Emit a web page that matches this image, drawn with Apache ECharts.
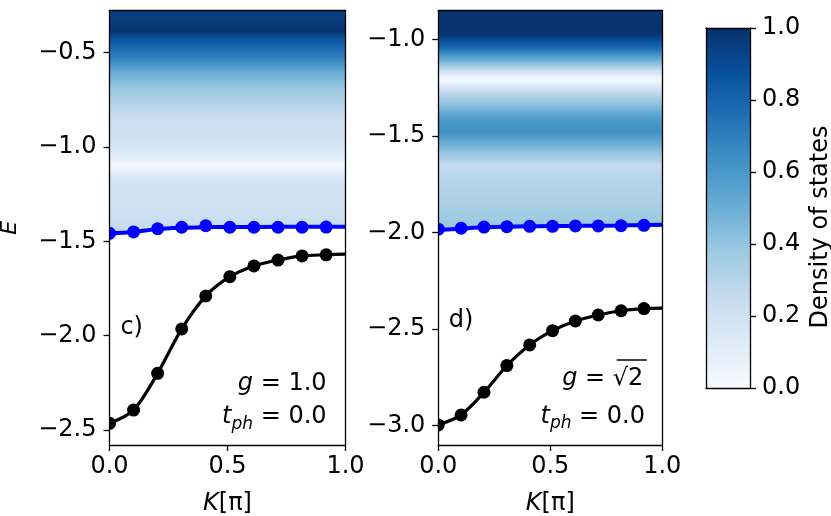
<!DOCTYPE html>
<html><head><meta charset="utf-8">
<script src="https://cdn.jsdelivr.net/npm/echarts@6/dist/echarts.min.js"></script>
<style>html,body{margin:0;padding:0;background:#fff}#c{width:831px;height:516px}</style>
</head><body><div id="c"></div>
<script>
// ---- tick labels ----
const kTicks = [0, 0.5, 1.0];
const eTicksC = [-2.5, -2.0, -1.5, -1.0, -0.5];
const eTicksD = [-3.0, -2.5, -2.0, -1.5, -1.0];
const cbTicks = [0, 0.2, 0.4, 0.6, 0.8, 1.0];

// ---- momentum samples ----
const kDots = [0, 0.102, 0.204, 0.306, 0.408, 0.51, 0.612, 0.714, 0.816, 0.918];
const kLine = [0, 0.1, 0.2, 0.3, 0.4, 0.5, 0.6, 0.7, 0.8, 0.9, 1.0];
const kBlackLine = [0, 0.102, 0.204, 0.306, 0.408, 0.51, 0.612, 0.714, 0.816, 0.918, 1.0];

// ---- panel c) g = 1.0 ----
const blueDotsC = [-1.457, -1.450, -1.433, -1.425, -1.417, -1.425, -1.425, -1.425, -1.425, -1.424];
const blueLineC = [-1.457, -1.450, -1.435, -1.428, -1.425, -1.424, -1.424, -1.423, -1.423, -1.422, -1.422];
const blackDotsC = [-2.464, -2.394, -2.199, -1.964, -1.789, -1.687, -1.630, -1.599, -1.577, -1.571];
const blackLineC = [-2.464, -2.394, -2.199, -1.964, -1.789, -1.687, -1.630, -1.599, -1.577, -1.571, -1.567];
const dosEC = [-0.27, -0.316, -0.353, -0.385, -0.422, -0.459, -0.491, -0.528, -0.565, -0.597, -0.634, -0.671, -0.703, -0.756, -0.809, -0.862, -0.936, -1.0, -1.053, -1.095, -1.138, -1.19, -1.281, -1.36, -1.413, -1.5];
const dosC  = [0.94, 0.95, 0.97, 1.0, 0.87, 0.8, 0.75, 0.68, 0.6, 0.52, 0.46, 0.41, 0.37, 0.32, 0.26, 0.22, 0.21, 0.17, 0.1, 0.03, 0.12, 0.19, 0.2, 0.21, 0.24, 0.24];

// ---- panel d) g = sqrt(2) ----
const blueDotsD = [-1.983, -1.978, -1.972, -1.970, -1.968, -1.968, -1.966, -1.966, -1.965, -1.963];
const blueLineD = [-1.987, -1.980, -1.973, -1.970, -1.968, -1.967, -1.966, -1.965, -1.964, -1.962, -1.960];
const blackDotsD = [-2.996, -2.944, -2.827, -2.689, -2.582, -2.508, -2.458, -2.427, -2.405, -2.394];
const blackLineD = [-2.996, -2.944, -2.827, -2.689, -2.582, -2.508, -2.458, -2.427, -2.405, -2.394, -2.391];
const dosED = [-0.85, -0.9, -0.957, -0.978, -0.993, -1.009, -1.035, -1.061, -1.086, -1.112, -1.138, -1.164, -1.19, -1.211, -1.237, -1.268, -1.304, -1.34, -1.371, -1.407, -1.449, -1.485, -1.521, -1.573, -1.625, -1.651, -1.692, -1.764, -1.832, -1.899, -1.946, -2.03];
const dosD  = [0.98, 0.99, 1.0, 0.97, 0.92, 0.87, 0.8, 0.7, 0.58, 0.47, 0.36, 0.22, 0.06, 0.02, 0.12, 0.25, 0.35, 0.42, 0.5, 0.58, 0.62, 0.62, 0.54, 0.42, 0.32, 0.25, 0.28, 0.31, 0.33, 0.36, 0.38, 0.38];

// ---- colormap (matplotlib Blues) ----
const BLUES = ['#f7fbff','#deebf7','#c6dbef','#9ecae1','#6baed6','#4292c6','#2171b5','#08519c','#08306b'];
function hex(c){return [parseInt(c.slice(1,3),16),parseInt(c.slice(3,5),16),parseInt(c.slice(5,7),16)];}
function blues(v){
  v = Math.max(0, Math.min(1, v));
  const t = v * 8, i = Math.min(7, Math.floor(t)), f = t - i;
  const a = hex(BLUES[i]), b = hex(BLUES[i+1]);
  return 'rgb(' + a.map((x,j)=>Math.round(x + (b[j]-x)*f)).join(',') + ')';
}

const FONT = 'DejaVu Sans';
const zip = (xs, ys) => xs.map((x,i)=>[x, ys[i]]);
const fmt = v => (v < 0 ? '\u2212' : '') + Math.abs(v).toFixed(1);

function dosRows(E, V){
  const out = [];
  for (let i = 0; i < E.length - 1; i++) out.push([0, 1, E[i], E[i+1], V[i], V[i+1]]);
  return out;
}
function renderDos(params, api){
  const p0 = api.coord([api.value(0), api.value(2)]);
  const p1 = api.coord([api.value(1), api.value(3)]);
  const v0 = api.value(4), v1 = api.value(5);
  const stops = [];
  for (let s = 0; s <= 4; s++){ const f = s/4; stops.push({offset: f, color: blues(v0 + (v1 - v0)*f)}); }
  return {type:'rect', shape:{x:p0[0], y:p0[1], width:p1[0]-p0[0], height:p1[1]-p0[1]+0.8},
    style:{fill: new echarts.graphic.LinearGradient(0,0,0,1,stops)}};
}
function dotRenderer(color){
  return function(params, api){
    const p = api.coord([api.value(0), api.value(1)]);
    return {type:'circle', shape:{cx:p[0], cy:p[1], r:6.5}, style:{fill:color}};
  };
}
function renderCbar(params, api){
  const p0 = api.coord([0, api.value(1)]);
  const p1 = api.coord([1, api.value(0)]);
  const stops = BLUES.map((c,i)=>({offset: 1 - i/8, color: c}));
  return {type:'rect', shape:{x:p0[0], y:p0[1], width:p1[0]-p0[0], height:p1[1]-p0[1]},
    style:{fill: new echarts.graphic.LinearGradient(0,0,0,1,stops)}};
}

const lineSty = {color:'#000', width:1.3};
const labelSty = {fontFamily:FONT, fontSize:24, color:'#000'};
function xAx(grid, main){
  return {type:'value', gridIndex:grid, position: main ? 'bottom' : 'top', min:0, max:1, interval:0.5, z:6,
    axisLine:{show:true, onZero:false, lineStyle:lineSty},
    axisTick:{show:main, length:6, lineStyle:lineSty},
    axisLabel:Object.assign({show:main, margin:10, formatter:fmt}, labelSty),
    splitLine:{show:false},
    name: main ? '{i|K}[\u03c0]' : '', nameLocation:'middle', nameGap:47,
    nameTextStyle:{fontFamily:FONT, fontSize:24, color:'#000', rich:{i:{fontFamily:FONT, fontSize:24, fontStyle:'italic', color:'#000'}}}};
}
function yAx(grid, main, min, max, ticks, name){
  return {type:'value', gridIndex:grid, position: main ? 'left' : 'right', min:min, max:max, z:6,
    axisLine:{show:true, onZero:false, lineStyle:lineSty},
    axisTick:{show:main, length:6, lineStyle:lineSty, customValues:ticks},
    axisLabel:Object.assign({show:main, margin:13, formatter:fmt, customValues:ticks}, labelSty),
    splitLine:{show:false},
    name: name || '', nameLocation:'middle', nameGap:88, nameRotate:90,
    nameTextStyle:{fontFamily:FONT, fontSize:22, fontStyle:'italic', color:'#000'}};
}

const panels = [
  {blueDots:blueDotsC, blueLine:blueLineC, blackDots:blackDotsC, blackLine:blackLineC, E:dosEC, V:dosC},
  {blueDots:blueDotsD, blueLine:blueLineD, blackDots:blackDotsD, blackLine:blackLineD, E:dosED, V:dosD}
];
const series = [];
panels.forEach((p, g) => {
  const xi = g*2, yi = g*2;
  series.push({type:'custom', xAxisIndex:xi, yAxisIndex:yi, renderItem:renderDos, data:dosRows(p.E, p.V),
    encode:{x:[0,1], y:[2,3]}, clip:true, z:1, silent:true});
  series.push({type:'line', xAxisIndex:xi, yAxisIndex:yi, data:zip(kLine, p.blueLine), smooth:0.3,
    symbol:'none', lineStyle:{width:0, opacity:0}, areaStyle:{color:'#fff', opacity:1, origin:'start'}, z:2, silent:true});
  series.push({type:'line', xAxisIndex:xi, yAxisIndex:yi, data:zip(kLine, p.blueLine), smooth:0.3,
    symbol:'none', lineStyle:{color:'#0000ff', width:4}, z:3, silent:true});
  series.push({type:'line', xAxisIndex:xi, yAxisIndex:yi, data:zip(kBlackLine, p.blackLine), smooth:0.3,
    symbol:'none', lineStyle:{color:'#000', width:3.2}, z:3, silent:true});
  series.push({type:'custom', xAxisIndex:xi, yAxisIndex:yi, renderItem:dotRenderer('#0000ff'), data:zip(kDots, p.blueDots),
    encode:{x:0, y:1}, clip:true, z:4, silent:true});
  series.push({type:'custom', xAxisIndex:xi, yAxisIndex:yi, renderItem:dotRenderer('#000'), data:zip(kDots, p.blackDots),
    encode:{x:0, y:1}, clip:true, z:4, silent:true});
});
series.push({type:'custom', xAxisIndex:4, yAxisIndex:5, renderItem:renderCbar, data:[[cbTicks[0], cbTicks[cbTicks.length-1]]],
  encode:{y:[0,1]}, z:1, silent:true});

const chart = echarts.init(document.getElementById('c'), null, {renderer:'canvas'});
const txt = (x, y, text, align, rich) => ({type:'text', x:x, y:y, z:10,
  style:{text:text, font:'24px "DejaVu Sans"', fontFamily:FONT, fontSize:24, fill:'#000',
    align:align, textAlign:align, verticalAlign:'middle', textVerticalAlign:'middle', rich:rich}});
const rich = {
  i:{fontFamily:FONT, fontSize:24, fontStyle:'italic', fill:'#000', color:'#000'},
  n:{fontFamily:FONT, fontSize:24, fill:'#000', color:'#000'},
  s:{fontFamily:FONT, fontSize:17, fontStyle:'italic', fill:'#000', color:'#000', padding:[14,0,0,0]}
};
chart.setOption({
  animation:false,
  backgroundColor:'#fff',
  grid:[
    {left:109.5, top:10.5, width:236, height:434.5, outerBoundsMode:'none', containLabel:false},
    {left:438.3, top:10.5, width:224, height:434.5, outerBoundsMode:'none', containLabel:false},
    {left:706, top:28, width:44, height:360, outerBoundsMode:'none', containLabel:false}
  ],
  xAxis:[ xAx(0,true), xAx(0,false), xAx(1,true), xAx(1,false),
    {type:'value', gridIndex:2, position:'bottom', min:0, max:1, z:6, axisLine:{show:true, onZero:false, lineStyle:lineSty}, axisTick:{show:false}, axisLabel:{show:false}, splitLine:{show:false}},
    {type:'value', gridIndex:2, position:'top', min:0, max:1, z:6, axisLine:{show:true, onZero:false, lineStyle:lineSty}, axisTick:{show:false}, axisLabel:{show:false}, splitLine:{show:false}} ],
  yAxis:[ yAx(0,true,-2.579,-0.2764,eTicksC,'E'), yAx(0,false,-2.579,-0.2764,eTicksC),
    yAx(1,true,-3.0999,-0.851,eTicksD), yAx(1,false,-3.0999,-0.851,eTicksD),
    {type:'value', gridIndex:2, position:'left', min:0, max:1, z:6, axisLine:{show:true, onZero:false, lineStyle:lineSty}, axisTick:{show:false}, axisLabel:{show:false}, splitLine:{show:false}},
    {type:'value', gridIndex:2, position:'right', min:0, max:1, interval:0.2, z:6,
      axisLine:{show:true, onZero:false, lineStyle:lineSty},
      axisTick:{show:true, length:6, lineStyle:lineSty},
      axisLabel:Object.assign({margin:12, formatter:fmt}, labelSty), splitLine:{show:false}} ],
  graphic:[
    txt(120.4, 328, 'c)', 'left'),
    txt(448.7, 320.3, 'd)', 'left'),
    txt(326.6, 383.4, '{i|g}{n| = 1.0}', 'right', rich),
    txt(326.6, 417.2, '{i|t}{s|ph}{n| = 0.0}', 'right', rich),
    txt(643.3, 378.4, '{i|g}{n| = \u221a2}', 'right', rich),
    txt(645, 416.7, '{i|t}{s|ph}{n| = 0.0}', 'right', rich),
    {type:'line', z:10, shape:{x1:616.7, y1:360, x2:646.7, y2:360}, style:{stroke:'#000', lineWidth:1.5}},
    {type:'text', x:821, y:227, rotation:Math.PI/2, z:10,
      style:{text:'Density of states', font:'24px "DejaVu Sans"', fill:'#000', align:'center', textAlign:'center', verticalAlign:'middle', textVerticalAlign:'middle'}}
  ],
  series:series
});
</script></body></html>
